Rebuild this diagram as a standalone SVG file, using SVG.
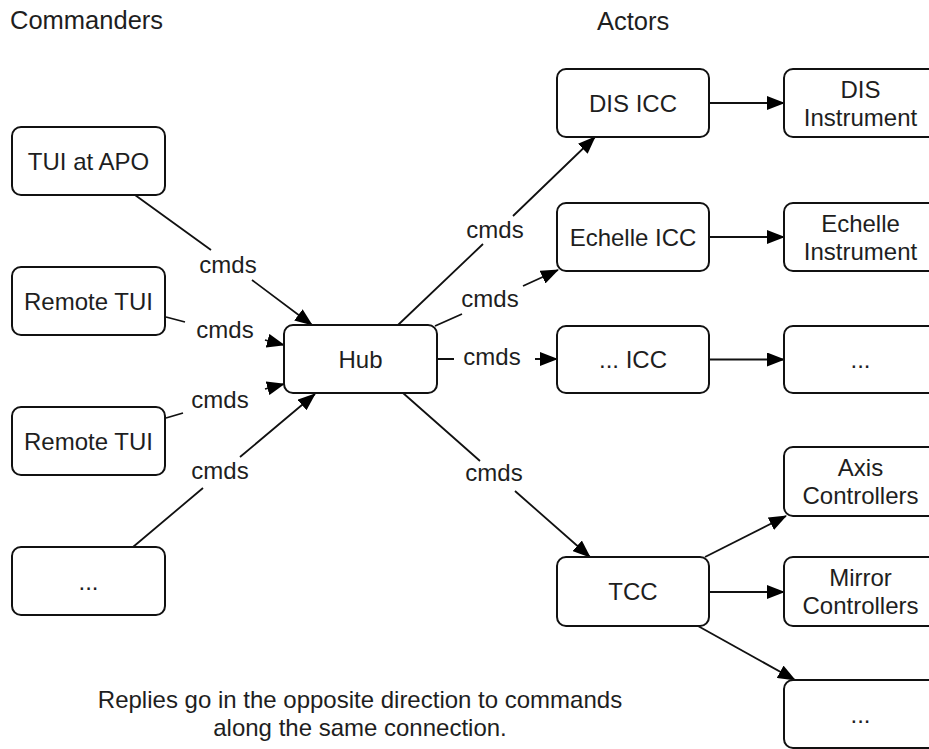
<svg xmlns="http://www.w3.org/2000/svg" width="929" height="749" viewBox="0 0 929 749">
<defs>
<style>
.box{fill:#fff;stroke:#111;stroke-width:2}
.t{font-family:"Liberation Sans",Arial,sans-serif;font-size:24px;fill:#1e1e1e;text-anchor:middle}
.h{font-family:"Liberation Sans",Arial,sans-serif;font-size:25.5px;fill:#1e1e1e}
.c{fill:none;stroke:#111;stroke-width:1.8}
.a{marker-end:url(#arr)}
</style>
<marker id="arr" markerUnits="userSpaceOnUse" markerWidth="18" markerHeight="14" viewBox="0 0 18 14" refX="17" refY="7" orient="auto">
<path d="M0,0 L18,7 L0,14 z" fill="#000"/>
</marker>
</defs>
<rect width="929" height="749" fill="#fff"/>

<text class="h" x="10" y="29">Commanders</text>
<text class="h" x="597" y="30">Actors</text>

<g id="connectors">
<path class="c a" d="M135,195 L211,250 M252,280 L312,325"/>
<path class="c a" d="M166,317 L185,322 M265,340 L284,345"/>
<path class="c a" d="M166,418 L183,413 M265,389 L284,384"/>
<path class="c a" d="M133,547 L203,488 M240,457 L315,394"/>
<path class="c a" d="M398,325 L483,244 M513,216 L595,137"/>
<path class="c a" d="M435,326 L462,314 M523,286 L558,270"/>
<path class="c a" d="M437,359 L454,359 M535,359 L557,359"/>
<path class="c a" d="M403,393 L480,461 M515,491 L590,557"/>
<path class="c a" d="M709,103 L784,103"/>
<path class="c a" d="M709,237 L784,237"/>
<path class="c a" d="M709,359.5 L784,359.5"/>
<path class="c a" d="M705,557 L786,516"/>
<path class="c a" d="M709,592 L784,592"/>
<path class="c a" d="M698,626 L795,680"/>
<text class="t" x="228" y="273">cmds</text>
<text class="t" x="225" y="338">cmds</text>
<text class="t" x="220" y="408">cmds</text>
<text class="t" x="220" y="479">cmds</text>
<text class="t" x="495" y="238">cmds</text>
<text class="t" x="490" y="307">cmds</text>
<text class="t" x="492" y="365">cmds</text>
<text class="t" x="494" y="481">cmds</text>
</g>

<g id="tui-apo"><rect class="box" x="12" y="127" width="153" height="68" rx="9"/><text class="t" x="88.5" y="170">TUI at APO</text></g>
<g id="remote-tui-1"><rect class="box" x="12" y="267" width="153" height="68" rx="9"/><text class="t" x="88.5" y="310">Remote TUI</text></g>
<g id="remote-tui-2"><rect class="box" x="12" y="407" width="153" height="68" rx="9"/><text class="t" x="88.5" y="450">Remote TUI</text></g>
<g id="commander-more"><rect class="box" x="12" y="547" width="153" height="68" rx="9"/><text class="t" x="88.5" y="590">...</text></g>

<g id="hub"><rect class="box" x="284" y="325" width="153" height="68" rx="9"/><text class="t" x="360.5" y="368">Hub</text></g>

<g id="dis-icc"><rect class="box" x="557" y="69" width="152" height="68" rx="9"/><text class="t" x="633" y="112">DIS ICC</text></g>
<g id="echelle-icc"><rect class="box" x="557" y="203" width="152" height="68" rx="9"/><text class="t" x="633" y="246">Echelle ICC</text></g>
<g id="more-icc"><rect class="box" x="557" y="326" width="152" height="67" rx="9"/><text class="t" x="633" y="368">... ICC</text></g>
<g id="tcc"><rect class="box" x="557" y="557" width="152" height="69" rx="9"/><text class="t" x="633" y="600">TCC</text></g>

<g id="dis-instrument"><rect class="box" x="784" y="69" width="153" height="68" rx="9"/><text class="t" x="860.5" y="98">DIS</text><text class="t" x="860.5" y="126">Instrument</text></g>
<g id="echelle-instrument"><rect class="box" x="784" y="203" width="153" height="68" rx="9"/><text class="t" x="860.5" y="232">Echelle</text><text class="t" x="860.5" y="260">Instrument</text></g>
<g id="more-instrument"><rect class="box" x="784" y="326" width="153" height="67" rx="9"/><text class="t" x="860.5" y="368">...</text></g>
<g id="axis-controllers"><rect class="box" x="784" y="447" width="153" height="69" rx="9"/><text class="t" x="860.5" y="476">Axis</text><text class="t" x="860.5" y="504">Controllers</text></g>
<g id="mirror-controllers"><rect class="box" x="784" y="557" width="153" height="69" rx="9"/><text class="t" x="860.5" y="586">Mirror</text><text class="t" x="860.5" y="614">Controllers</text></g>
<g id="tcc-more"><rect class="box" x="784" y="680" width="153" height="68" rx="9"/><text class="t" x="860.5" y="723">...</text></g>

<text class="t" x="360" y="708">Replies go in the opposite direction to commands</text>
<text class="t" x="360" y="736">along the same connection.</text>
</svg>
